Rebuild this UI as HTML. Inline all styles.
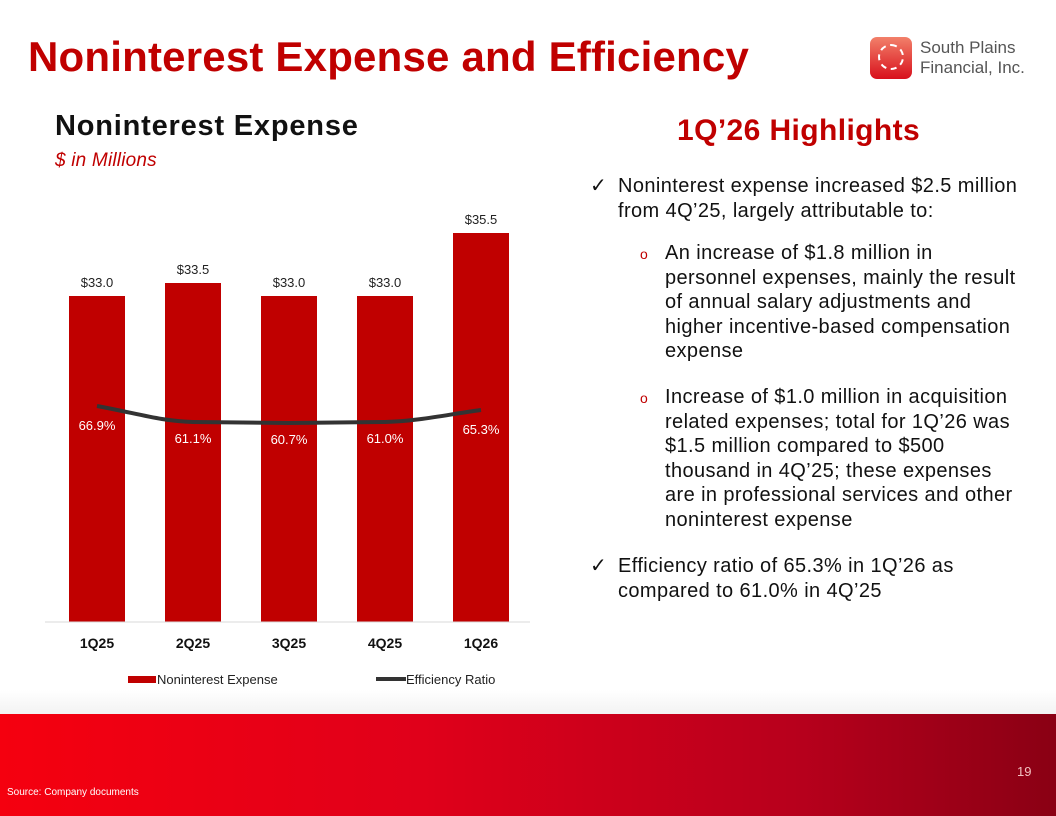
<!DOCTYPE html>
<html><head><meta charset="utf-8"><style>
body{margin:0;width:1056px;height:816px;overflow:hidden;font-family:"Liberation Sans",Arial,sans-serif;background:#fff;position:relative}
.abs{position:absolute}
.band{left:0;top:714px;width:1056px;height:102px;background:linear-gradient(90deg,#f5000f 0%,#e0001a 40%,#b8001c 75%,#8a0014 100%)}
.hl{left:590px;width:460px;font-size:20px;color:#111;line-height:24.5px;letter-spacing:0.4px;white-space:nowrap}
</style></head><body>
<div class="abs" style="left:0;top:690px;width:1056px;height:24px;background:linear-gradient(180deg,#fff,#f3f3f3)"></div>
<div class="abs band"></div>
<div class="abs" style="left:28px;top:33px;font-size:42px;font-weight:bold;color:#c00000;letter-spacing:0.2px">Noninterest Expense and Efficiency</div>
<div class="abs" style="left:870px;top:37px;width:42px;height:42px;border-radius:7px;background:linear-gradient(180deg,#f2806a,#d8101c);"></div>
<div class="abs" style="left:878px;top:44px;width:26px;height:26px;border-radius:50%;border:2px dashed #fff;box-sizing:border-box"></div>
<div class="abs" style="left:920px;top:38px;font-size:17px;color:#555;line-height:20px">South Plains<br>Financial, Inc.</div>
<div class="abs" style="left:55px;top:110px;font-size:29px;font-weight:bold;color:#111;letter-spacing:0.8px">Noninterest Expense</div>
<div class="abs" style="left:55px;top:150px;font-size:19px;font-style:italic;color:#c00000;letter-spacing:0.2px">$ in Millions</div>
<div class="abs" style="left:677px;top:114px;font-size:30px;font-weight:bold;color:#c00000;letter-spacing:0.4px">1Q’26 Highlights</div>
<svg class="abs" style="left:0;top:0" width="560" height="700">
<g fill="#c00000">
<rect x="69" y="296" width="56" height="326"/><rect x="165" y="283" width="56" height="339"/>
<rect x="261" y="296" width="56" height="326"/><rect x="357" y="296" width="56" height="326"/>
<rect x="453" y="233" width="56" height="389"/></g>
<line x1="45" y1="622" x2="530" y2="622" stroke="#d9d9d9"/>
<path d="M97,406 C140,414 160,421 193,422 L289,423 L385,422 C420,421 450,414 481,410" fill="none" stroke="#333" stroke-width="4"/>
<g font-size="13" fill="#222" text-anchor="middle">
<text x="97" y="287">$33.0</text><text x="193" y="274">$33.5</text><text x="289" y="287">$33.0</text><text x="385" y="287">$33.0</text><text x="481" y="224">$35.5</text></g>
<g font-size="13" fill="#fff" text-anchor="middle">
<text x="97" y="430">66.9%</text><text x="193" y="443">61.1%</text><text x="289" y="444">60.7%</text><text x="385" y="443">61.0%</text><text x="481" y="434">65.3%</text></g>
<g font-size="14" font-weight="bold" fill="#111" text-anchor="middle">
<text x="97" y="648">1Q25</text><text x="193" y="648">2Q25</text><text x="289" y="648">3Q25</text><text x="385" y="648">4Q25</text><text x="481" y="648">1Q26</text></g>
<rect x="128" y="676" width="28" height="7" fill="#c00000"/>
<text x="157" y="684" font-size="13" fill="#222">Noninterest Expense</text>
<line x1="376" y1="679" x2="406" y2="679" stroke="#333" stroke-width="4"/>
<text x="406" y="684" font-size="13" fill="#222">Efficiency Ratio</text>
</svg>
<div class="abs hl" style="top:174px">✓</div>
<div class="abs hl" style="left:618px;top:174px">Noninterest expense increased $2.5 million<br>from 4Q’25, largely attributable to:</div>
<div class="abs hl" style="left:640px;top:242px;font-size:14px;color:#c00000">o</div>
<div class="abs hl" style="left:665px;top:241px">An increase of $1.8 million in<br>personnel expenses, mainly the result<br>of annual salary adjustments and<br>higher incentive-based compensation<br>expense</div>
<div class="abs hl" style="left:640px;top:386px;font-size:14px;color:#c00000">o</div>
<div class="abs hl" style="left:665px;top:385px">Increase of $1.0 million in acquisition<br>related expenses; total for 1Q’26 was<br>$1.5 million compared to $500<br>thousand in 4Q’25; these expenses<br>are in professional services and other<br>noninterest expense</div>
<div class="abs hl" style="top:554px">✓</div>
<div class="abs hl" style="left:618px;top:554px">Efficiency ratio of 65.3% in 1Q’26 as<br>compared to 61.0% in 4Q’25</div>
<div class="abs" style="left:1017px;top:764px;font-size:13px;color:#f3c0c0">19</div>
<div class="abs" style="left:7px;top:787px;font-size:10px;color:#fff">Source: Company documents</div>
</body></html>
